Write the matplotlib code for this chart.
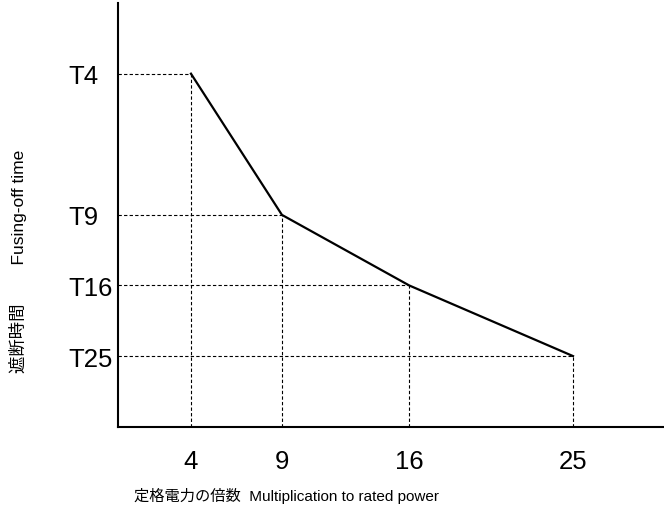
import matplotlib
matplotlib.use('Agg')
import matplotlib.pyplot as plt

# data: multiples of rated power and relative fusing-off time levels
multiples = [4, 9, 16, 25]
time_levels = [5, 3, 2, 1]
time_labels = ['T4', 'T9', 'T16', 'T25']

fonts = ['Liberation Sans', 'Noto Sans CJK JP', 'DejaVu Sans']
plt.rcParams['font.family'] = fonts

fig = plt.figure(figsize=(6.64, 5.10), dpi=100)
ax = fig.add_axes([0.178, 0.1614, 0.822, 0.8306])

# guide lines
for x, y in zip(multiples, time_levels):
    ax.plot([0, x], [y, y], color='black', lw=0.8, linestyle=(0, (3, 2)))
    ax.plot([x, x], [0, y], color='black', lw=0.8, linestyle=(0, (3, 2)))

# curve
ax.plot(multiples, time_levels, color='black', lw=1.6, solid_joinstyle='miter')

ax.set_xlim(0, 30)
ax.set_ylim(0, 6)

ax.spines['top'].set_visible(False)
ax.spines['right'].set_visible(False)
ax.spines['left'].set_linewidth(1.5)
ax.spines['bottom'].set_linewidth(1.5)

ax.set_xticks(multiples)
ax.set_xticklabels([str(m) for m in multiples], fontsize=18.5)
ax.set_yticks(time_levels)
ax.set_yticklabels(time_labels, fontsize=18.5)
ax.tick_params(axis='x', length=0, pad=16)
ax.tick_params(axis='y', length=0, pad=36)
for lab in ax.get_yticklabels():
    lab.set_horizontalalignment('left')

fig.text(287 / 664, 1 - 496 / 510, '定格電力の倍数  Multiplication to rated power',
         ha='center', va='center', fontsize=11)
fig.text(18 / 664, 1 - 261 / 510, '遮断時間' + ' ' * 8 + 'Fusing-off time',
         ha='center', va='center', rotation=90, fontsize=12.5)

fig.savefig('out.png', dpi=100)
